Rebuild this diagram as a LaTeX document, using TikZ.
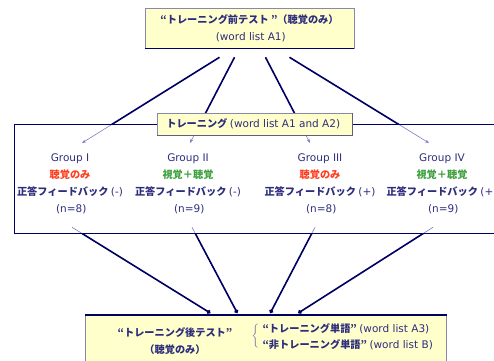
\documentclass[tikz,border=0pt]{standalone}
\usepackage{fontspec}
\setmainfont{DejaVu Sans}
\newfontfamily\jpfont[Scale=0.97]{Noto Sans CJK JP}
\usetikzlibrary{arrows.meta,calc}

\definecolor{txtnavy}{RGB}{45,45,125}
\definecolor{linenavy}{RGB}{0,0,100}
\definecolor{thinline}{RGB}{125,125,195}
\definecolor{listred}{RGB}{255,60,30}
\definecolor{listgreen}{RGB}{60,160,60}
\definecolor{boxfill}{RGB}{255,255,204}
\definecolor{boxedge}{RGB}{135,135,175}

% Japanese in bold, spaced brackets
\newcommand{\jb}[1]{{\jpfont\bfseries #1}}
\newcommand{\jpar}[1]{\hspace{2.5pt}(#1)\hspace{2.5pt}}

\tikzset{
    yellowbox/.style={draw=boxedge, fill=boxfill, line width=0.6pt, inner sep=0pt, align=center},
    heavy/.style={draw=linenavy, line width=1.6pt},
    light/.style={draw=thinline, line width=0.6pt},
}

\begin{document}
\begin{tikzpicture}[x=1pt, y=-1pt, every node/.style={font=\fontsize{10.5}{17}\selectfont, text=txtnavy}]
        \useasboundingbox (0,0) rectangle (494,360);

        % Pre-test box
        \node[yellowbox, minimum width=209pt, minimum height=40pt] (pre) at (249.5,28)
            {\jb{“トレーニング前テスト ”（聴覚のみ）}\\\jpar{word list A1}};
        \draw[heavy, line width=1.4pt] (pre.south west) -- (pre.south east);

        % Training frame (right side runs off the picture)
        \draw[linenavy, line width=1pt] (500,124) -- (14,124) -- (14,233) -- (500,233);

        % Groups
        \foreach \i/\x/\name/\cond/\col/\fb/\n in {1/70/I/聴覚のみ/listred/-/8,
                                               2/188/II/視覚＋聴覚/listgreen/-/9,
                                               3/320/III/聴覚のみ/listred/+/8,
                                               4/442/IV/視覚＋聴覚/listgreen/+/9}{
            \node[anchor=north, align=center] (g\i) at (\x,150)
                {Group \name\\\jb{\textcolor{\col}{\cond}}\\\jb{正答フィードバック}\jpar{\fb}\\\jpar{n=\n}};
        }

        % Pre-test to groups
        \foreach \i/\sx/\ex in {1/-30/12, 2/-15/2, 3/16/-10, 4/40/-13}{
            \coordinate (s\i) at ([xshift=\sx pt, yshift=-9pt]pre.south);
            \coordinate (e\i) at ([xshift=\ex pt, yshift=7pt]g\i.north);
            \draw[light, -{Stealth[length=4pt,width=3pt]}] (s\i) -- (e\i);
            \begin{scope}
                \clip (-10,-10) rectangle (510,124);
                \draw[heavy] (s\i) -- (e\i);
            \end{scope}
        }

        % Training label
        \node[yellowbox, minimum width=195pt, minimum height=22pt] (train) at (254.5,124)
            {\jb{トレーニング}\jpar{word list A1 and A2}};
        \draw[boxedge!70!black, line width=1pt] (train.north east) -- (train.south east) -- (train.south west);

        % Post-test box
        \node[yellowbox, anchor=north west, minimum width=361pt, minimum height=60pt] (post) at (85,315) {};
        \draw[heavy, line width=1.2pt] (post.north west) -- (post.north east);
        \node[align=center] (postL) at (175,341) {\jb{“トレーニング後テスト”}\\\jb{（聴覚のみ）}};
        \node[text=txtnavy!70] (brace) at (256,336) {$\left\{\rule{0pt}{13pt}\right.$};
        \node[anchor=west, align=left, font=\fontsize{10.5}{16}\selectfont] (postR) at (259,337)
            {\jb{“トレーニング単語”}\jpar{word list A3}\\\jb{“非トレーニング単語”}\jpar{word list B}};

        % Groups to post-test
        \foreach \i/\sx/\ex in {1/2/-55.5, 2/4/-28.5, 3/-5/4.5, 4/-9/32.5}{
            \coordinate (b\i) at ([xshift=\sx pt, yshift=-10pt]g\i.south);
            \coordinate (p\i) at ([xshift=\ex pt, yshift=2pt]post.north);
            \draw[light] (b\i) -- (p\i);
            \begin{scope}
                \clip (-10,233) rectangle (510,370);
                \draw[heavy, -{Circle[length=4pt]}] (b\i) -- (p\i);
            \end{scope}
        }
    \end{tikzpicture}
\end{document}
